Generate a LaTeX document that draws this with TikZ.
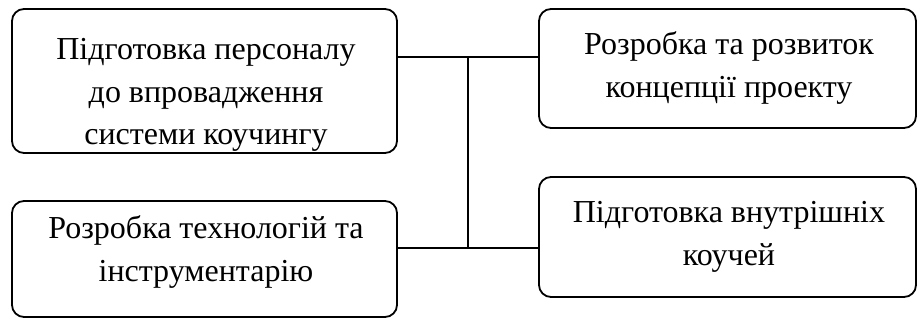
\documentclass[tikz,border=0pt]{standalone}
\usepackage{fontspec}
\setmainfont{Liberation Serif}
\begin{document}
\begin{tikzpicture}[x=1pt,y=1pt,
  box/.style={draw, line width=1.8pt, rounded corners=12pt, inner sep=0pt},
  txt/.style={align=center, inner sep=0pt, font=\fontsize{32}{42.5}\selectfont},
  link/.style={line width=1.8pt}]
\useasboundingbox (0,0) rectangle (917,320);
% boxes
\node[box, minimum width=385pt, minimum height=144pt] (A) at (204.5,239) {};
\node[box, minimum width=385pt, minimum height=116pt] (C) at (204.5,61) {};
\node[box, minimum width=377pt, minimum height=119pt] (B) at (727.5,251.5) {};
\node[box, minimum width=377pt, minimum height=120pt] (D) at (727.5,83) {};
% texts
\node[txt] (At) at (206,225) {Підготовка персоналу\\до впровадження\\системи коучингу};
\node[txt] (Ct) at (206,68) {Розробка технологій та\\інструментарію};
\node[txt] (Bt) at (729,252) {Розробка та розвиток\\концепції проекту};
\node[txt] (Dt) at (729,83) {Підготовка внутрішніх\\коучей};
% connectors
\coordinate (jt) at (468,263);
\coordinate (jb) at (468,72);
\draw[link] (A.east |- jt) -- (B.west |- jt);
\draw[link] (C.east |- jb) -- (D.west |- jb);
\draw[link] (jt) -- (jb);
\end{tikzpicture}
\end{document}
